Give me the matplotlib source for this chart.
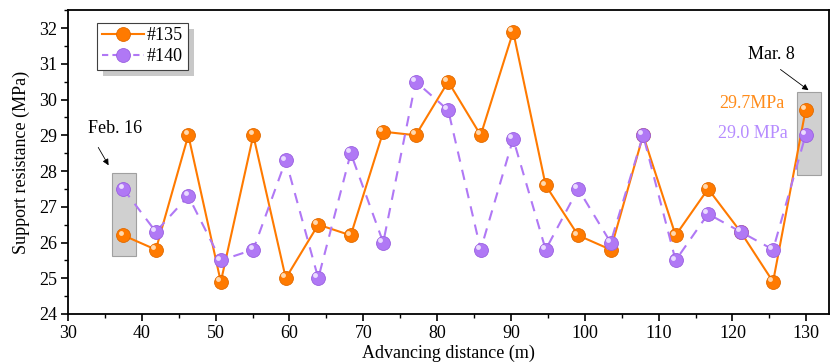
import matplotlib.pyplot as plt
import matplotlib.transforms as mtransforms
from matplotlib.patches import Rectangle
from matplotlib.lines import Line2D
from matplotlib.ticker import MultipleLocator

# data
distance = [37.5, 41.9, 46.3, 50.7, 55.1, 59.5, 63.9, 68.3, 72.7, 77.1, 81.5,
            85.9, 90.3, 94.7, 99.1, 103.5, 107.9, 112.3, 116.7, 121.1, 125.5, 129.9]
res_135 = [26.2, 25.8, 29.0, 24.9, 29.0, 25.0, 26.5, 26.2, 29.1, 29.0, 30.5,
           29.0, 31.9, 27.6, 26.2, 25.8, 29.0, 26.2, 27.5, 26.3, 24.9, 29.7]
res_140 = [27.5, 26.3, 27.3, 25.5, 25.8, 28.3, 25.0, 28.5, 26.0, 30.5, 29.7,
           25.8, 28.9, 25.8, 27.5, 26.0, 29.0, 25.5, 26.8, 26.3, 25.8, 29.0]

ORANGE = "#ff7a00"
PURPLE = "#b078f5"
FS = 13

plt.rcParams["font.family"] = ["Liberation Serif", "DejaVu Serif"]
plt.rcParams["font.size"] = FS

fig = plt.figure(figsize=(8.31, 3.62), dpi=100)
ax = fig.add_axes([0.0818, 0.1326, 0.916, 0.8394])

# gray boxes behind the highlighted points
ax.add_patch(Rectangle((36.0, 25.62), 3.2, 2.32, facecolor="#d0d0d0",
                       edgecolor="#a0a0a0", lw=0.8, zorder=1))
ax.add_patch(Rectangle((128.8, 27.88), 3.2, 2.33, facecolor="#d0d0d0",
                       edgecolor="#a0a0a0", lw=0.8, zorder=1))

ax.plot(distance, res_135, "-", color=ORANGE, lw=1.5, marker="o", ms=10,
        mfc=ORANGE, mec="#e06a00", mew=0.6, zorder=3)
ax.plot(distance, res_140, "--", color=PURPLE, lw=1.5, dashes=(5, 4), marker="o",
        ms=10, mfc=PURPLE, mec="#9a60e0", mew=0.6, zorder=4)

# small highlight to suggest the shaded spheres
hl = mtransforms.offset_copy(ax.transData, fig=fig, x=-2, y=2, units="points")
ax.plot(distance, res_135, "o", ms=3.5, color="#ffd9b0", mec="none",
        transform=hl, zorder=3.5)
ax.plot(distance, res_140, "o", ms=3.5, color="#eadcff", mec="none",
        transform=hl, zorder=4.5)

# annotations
arrow = dict(arrowstyle="-|>", color="black", lw=0.6, mutation_scale=9,
             shrinkA=0, shrinkB=0)
ax.text(36.4, 29.2, "Feb. 16", ha="center", va="center", fontsize=FS)
ax.annotate("", xy=(35.5, 28.16), xytext=(34.1, 28.66), arrowprops=arrow)
ax.text(125.3, 31.26, "Mar. 8", ha="center", va="center", fontsize=FS)
ax.annotate("", xy=(130.3, 30.26), xytext=(126.5, 30.84), arrowprops=arrow)
ax.text(127.0, 29.9, "29.7MPa", color="#ff8c1a", ha="right", va="center", fontsize=FS)
ax.text(127.5, 29.06, "29.0 MPa", color="#b68cff", ha="right", va="center", fontsize=FS)

ax.set_xlim(30, 133.1)
ax.set_ylim(24, 32.5)
ax.xaxis.set_major_locator(MultipleLocator(10))
ax.xaxis.set_minor_locator(MultipleLocator(5))
ax.yaxis.set_major_locator(MultipleLocator(1))
ax.yaxis.set_minor_locator(MultipleLocator(0.5))
ax.tick_params(which="major", direction="out", length=5, width=1.2, labelsize=FS, pad=3)
ax.tick_params(which="minor", direction="out", length=3, width=1.0)
for sp in ax.spines.values():
    sp.set_linewidth(1.3)

ax.set_ylabel("Support resistance (MPa)", fontsize=FS, labelpad=6)
ax.set_xlabel("Advancing distance (m)", fontsize=FS, labelpad=2)

# legend with proxy handles so the dashes show on both sides of the marker
handles = [
    Line2D([], [], color=ORANGE, lw=1.5, marker="o", ms=10, mfc=ORANGE,
           mec="#e06a00", mew=0.6),
    Line2D([], [], color=PURPLE, lw=1.5, ls=(0, (3, 2)), marker="o", ms=10,
           mfc=PURPLE, mec="#9a60e0", mew=0.6),
]
leg = ax.legend(handles, ["#135", "#140"], loc="upper left",
                bbox_to_anchor=(0.034, 0.97), frameon=True, fancybox=False,
                framealpha=1, edgecolor="#404040", handlelength=2.3,
                handletextpad=0.2, borderpad=0.25, borderaxespad=0.2,
                labelspacing=0.2, fontsize=FS)
leg.get_frame().set_linewidth(0.8)

# offset gray shadow behind the legend box
fig.canvas.draw()
bb = leg.get_window_extent()
shadow = Rectangle((bb.x0 + 6, bb.y0 - 6), bb.width, bb.height,
                   facecolor="#c8c8c8", edgecolor="none",
                   transform=mtransforms.IdentityTransform(), zorder=4.9)
ax.add_artist(shadow)

fig.savefig("out.png", dpi=100)
